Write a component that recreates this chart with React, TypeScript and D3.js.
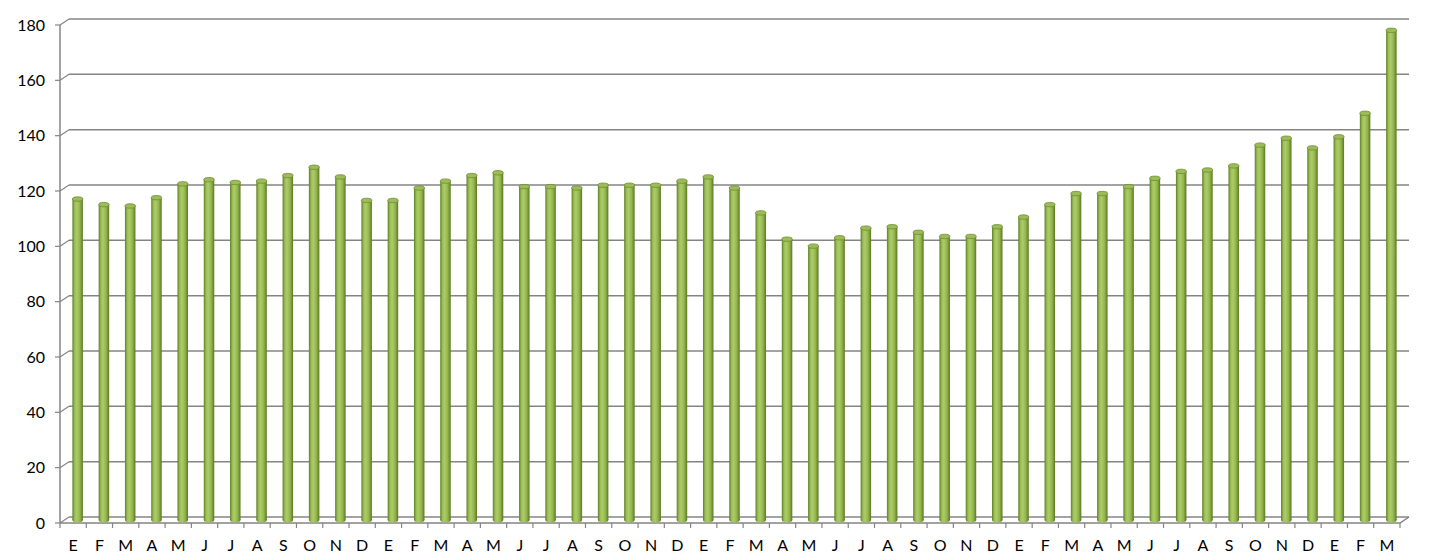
import React, { useEffect, useRef } from "react";
import * as d3 from "d3";

const WIDTH = 1442;
const HEIGHT = 560;

const months = [
  "E", "F", "M", "A", "M", "J", "J", "A", "S", "O", "N", "D",
  "E", "F", "M", "A", "M", "J", "J", "A", "S", "O", "N", "D",
  "E", "F", "M", "A", "M", "J", "J", "A", "S", "O", "N", "D",
  "E", "F", "M", "A", "M", "J", "J", "A", "S", "O", "N", "D",
  "E", "F", "M",
];

const values = [
  116, 114, 113.5, 116.5, 121.5, 123, 122, 122.5, 124.5, 127.5, 124, 115.5,
  115.5, 120, 122.5, 124.5, 125.5, 120.5, 120.5, 120, 121, 121, 121, 122.5,
  124, 120, 111, 101.5, 99, 102, 105.5, 106, 104, 102.5, 102.5, 106,
  109.5, 114, 118, 118, 120.5, 123.5, 126, 126.5, 128, 135.5, 138, 134.5,
  138.5, 147, 177,
];

const yTicks = [0, 20, 40, 60, 80, 100, 120, 140, 160, 180];

const App: React.FC = () => {
  const ref = useRef<SVGSVGElement>(null);

  useEffect(() => {
    document.body.style.margin = "0";
    if (!ref.current) return;
    const svg = d3.select(ref.current);
    svg.selectAll("*").remove();

    const left = 60;
    const right = 1400;
    const depthX = 9;
    const depthY = -6;
    const axisColor = "#848484";
    const font = "Lato, 'Open Sans', sans-serif";

    const x = d3
      .scaleBand<number>()
      .domain(values.map((_, i) => i))
      .range([left, right])
      .paddingInner(0);

    const y = d3.scaleLinear().domain([0, 180]).range([523, 25]);

    const defs = svg.append("defs");
    const grad = defs
      .append("linearGradient")
      .attr("id", "barGrad")
      .attr("x1", "0%")
      .attr("x2", "100%")
      .attr("y1", "0%")
      .attr("y2", "0%");
    [
      [0, "#5f7d24"],
      [0.22, "#9cbe57"],
      [0.42, "#abcc66"],
      [0.72, "#92b34e"],
      [1, "#5a7820"],
    ].forEach(([o, c]) =>
      grad.append("stop").attr("offset", o as number).attr("stop-color", c as string)
    );

    // back wall gridlines + left wall diagonals
    const grid = svg.append("g");
    yTicks.forEach((t) => {
      const yy = y(t);
      grid
        .append("line")
        .attr("x1", left + depthX)
        .attr("x2", right + depthX)
        .attr("y1", yy + depthY)
        .attr("y2", yy + depthY)
        .attr("stroke", axisColor)
        .attr("stroke-width", 1.5);
      grid
        .append("line")
        .attr("x1", left)
        .attr("x2", left + depthX)
        .attr("y1", yy)
        .attr("y2", yy + depthY)
        .attr("stroke", axisColor)
        .attr("stroke-width", 1.2);
      grid
        .append("line")
        .attr("x1", left - 5)
        .attr("x2", left)
        .attr("y1", yy)
        .attr("y2", yy)
        .attr("stroke", axisColor)
        .attr("stroke-width", 1.2);
      grid
        .append("text")
        .attr("x", 45)
        .attr("y", yy)
        .attr("dy", "0.35em")
        .attr("text-anchor", "end")
        .attr("font-family", font)
        .attr("font-size", 16)
        .attr("fill", "#000")
        .text(t);
    });

    // left axis line
    svg
      .append("line")
      .attr("x1", left)
      .attr("x2", left)
      .attr("y1", y(180))
      .attr("y2", y(0))
      .attr("stroke", axisColor)
      .attr("stroke-width", 1.5);

    // floor front edge + right diagonal
    svg
      .append("path")
      .attr(
        "d",
        `M${left},${y(0)}H${right}L${right + depthX},${y(0) + depthY}`
      )
      .attr("fill", "none")
      .attr("stroke", axisColor)
      .attr("stroke-width", 1.5);

    // x ticks and labels
    const xAxis = svg.append("g");
    for (let i = 0; i <= values.length; i++) {
      const xx = left + i * x.step();
      xAxis
        .append("line")
        .attr("x1", xx)
        .attr("x2", xx)
        .attr("y1", y(0))
        .attr("y2", y(0) + 5)
        .attr("stroke", axisColor)
        .attr("stroke-width", 1.2);
    }
    xAxis
      .selectAll("text")
      .data(months)
      .enter()
      .append("text")
      .attr("x", (_, i) => (x(i) as number) + x.bandwidth() / 2)
      .attr("y", 545)
      .attr("dy", "0.35em")
      .attr("text-anchor", "middle")
      .attr("font-family", font)
      .attr("font-size", 16)
      .attr("fill", "#000")
      .text((d) => d);

    // cylinder bars
    const bw = 10.5;
    const ry = 2.2;
    const bars = svg
      .append("g")
      .selectAll("g")
      .data(values)
      .enter()
      .append("g");

    const cx = (i: number) => (x(i) as number) + x.bandwidth() / 2 + depthX / 2;
    const base = y(0) + depthY / 2;
    const top = (v: number) => y(v) + depthY / 2;

    bars
      .append("ellipse")
      .attr("cx", (_, i) => cx(i))
      .attr("cy", base)
      .attr("rx", bw / 2)
      .attr("ry", ry)
      .attr("fill", "url(#barGrad)");

    bars
      .append("rect")
      .attr("x", (_, i) => cx(i) - bw / 2)
      .attr("y", (d) => top(d))
      .attr("width", bw)
      .attr("height", (d) => base - top(d))
      .attr("fill", "url(#barGrad)");

    bars
      .append("ellipse")
      .attr("cx", (_, i) => cx(i))
      .attr("cy", (d) => top(d))
      .attr("rx", bw / 2)
      .attr("ry", ry)
      .attr("fill", "#9cbc5a")
      .attr("stroke", "#6f8d30")
      .attr("stroke-width", 0.8);
  }, []);

  return (
    <svg
      ref={ref}
      width={WIDTH}
      height={HEIGHT}
      viewBox={`0 0 ${WIDTH} ${HEIGHT}`}
      style={{ display: "block", background: "#fff" }}
    />
  );
};

export default App;
